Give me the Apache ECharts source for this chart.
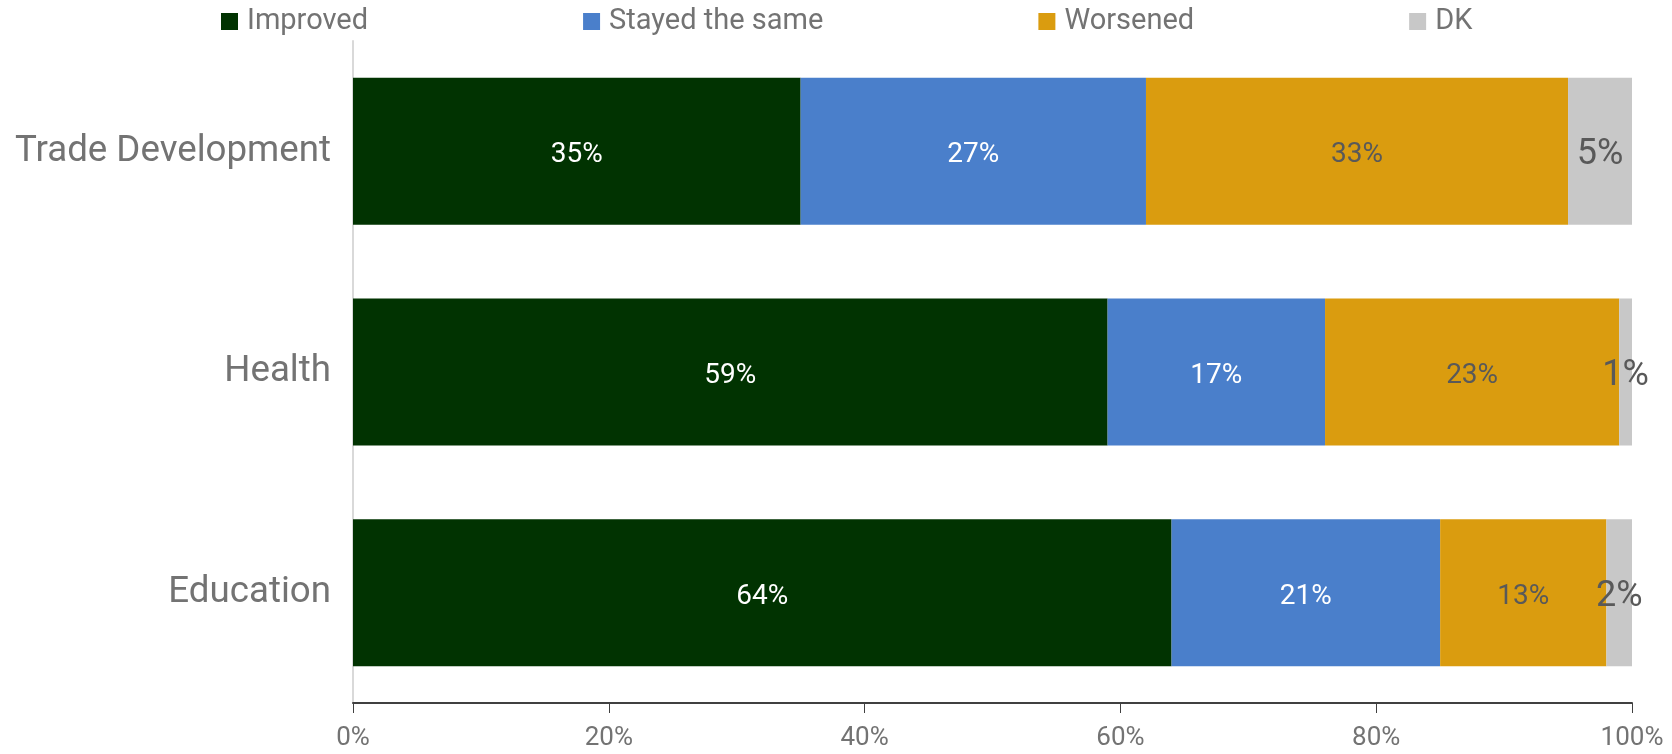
<!DOCTYPE html>
<html>
<head>
<meta charset="utf-8">
<script src="https://cdn.jsdelivr.net/npm/echarts@6/dist/echarts.min.js"></script>
<style>
html,body{margin:0;padding:0;background:#fff;}
#chart{width:1672px;height:754px;}
</style>
</head>
<body>
<div id="chart"></div>
<script>
var categories = ['Trade Development', 'Health', 'Education'];
var seriesNames = ['Improved', 'Stayed the same', 'Worsened', 'DK'];
var improved = [35, 59, 64];
var stayedSame = [27, 17, 21];
var worsened = [33, 23, 13];
var dk = [5, 1, 2];
var xTicks = [0, 20, 40, 60, 80, 100];

var colors = ['#013301', '#4a7fcb', '#da9c0f', '#c8c8c8'];
var labelColors = ['#ffffff', '#ffffff', '#595959', '#595959'];
var labelSizes = [28, 28, 28, 36];
var values = [improved, stayedSame, worsened, dk];

var chart = echarts.init(document.getElementById('chart'));
var series = seriesNames.map(function (name, i) {
  return {
    name: name,
    type: 'bar',
    stack: 'total',
    barCategoryGap: '33.4%',
    data: values[i],
    itemStyle: { color: colors[i] },
    label: {
      show: true,
      position: 'inside',
      offset: [0, 4],
      formatter: '{c}%',
      color: labelColors[i],
      fontSize: labelSizes[i],
      fontFamily: 'Roboto'
    },
    emphasis: { disabled: true }
  };
});

chart.setOption({
  animation: false,
  textStyle: { fontFamily: 'Roboto' },
  legend: {
    data: seriesNames,
    left: 221,
    top: 7,
    padding: 0,
    itemWidth: 17,
    itemHeight: 17,
    itemGap: 215,
    icon: 'rect',
    textStyle: { fontSize: 29, color: '#737373', fontFamily: 'Roboto', padding: [0, 0, 0, 4] }
  },
  grid: { left: 353, right: 40, top: 41, bottom: 51, containLabel: false },
  xAxis: {
    type: 'value',
    min: 0,
    max: 100,
    interval: 20,
    axisLine: { show: true, lineStyle: { color: '#404040', width: 2 } },
    axisTick: { show: true, length: 10, lineStyle: { color: '#404040', width: 1 } },
    axisLabel: {
      formatter: function (v) { return xTicks.indexOf(v) >= 0 ? v + '%' : ''; },
      fontSize: 26,
      color: '#737373',
      margin: 22
    },
    splitLine: { show: false }
  },
  yAxis: {
    type: 'category',
    inverse: true,
    data: categories,
    axisLine: { show: true, lineStyle: { color: '#d9d9d9', width: 2 } },
    axisTick: { show: false },
    axisLabel: { fontSize: 36.7, color: '#737373', margin: 22, padding: [12, 0, 0, 0] }
  },
  series: series
});
</script>
</body>
</html>
